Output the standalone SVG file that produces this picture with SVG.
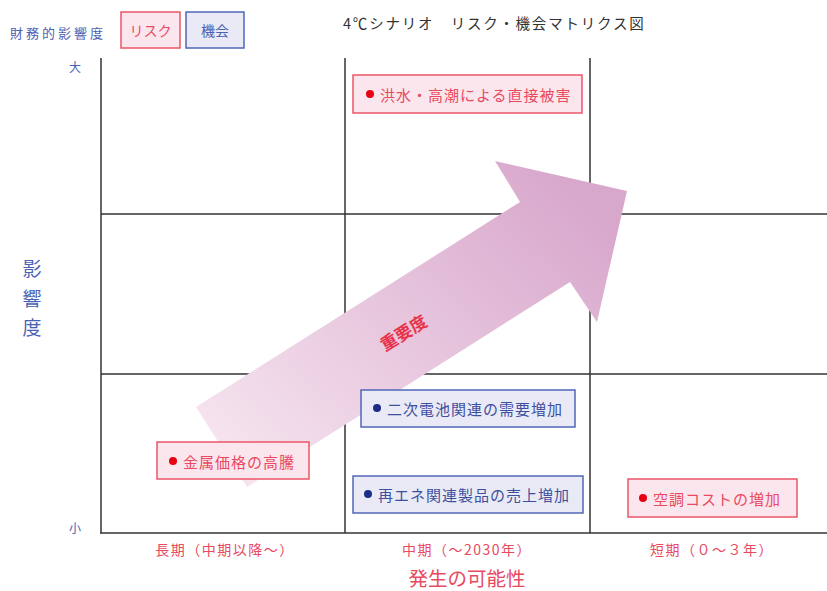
<svg xmlns="http://www.w3.org/2000/svg" width="827" height="591" viewBox="0 0 827 591">
<defs>
<linearGradient id="ag" gradientUnits="userSpaceOnUse" x1="260" y1="480" x2="560" y2="170">
<stop offset="0" stop-color="#f5e3ee"/>
<stop offset="1" stop-color="#d8a7cc"/>
</linearGradient>
</defs>
<style>
text{font-family:"Noto Sans CJK JP","Noto Sans",sans-serif;}
.grid{stroke:#333;stroke-width:1.5;fill:none;}
.rbox{fill:#fce6ee;stroke:#ec5568;stroke-width:1.5;}
.bbox{fill:#e9eaf5;stroke:#5067b8;stroke-width:1.5;}
.rt{fill:#e84a5f;font-size:15px;letter-spacing:1px;}
.bt{fill:#3e4f9e;font-size:15px;letter-spacing:1px;}
.rd{fill:#e60012;}
.bd{fill:#1b2d86;}
.axb{fill:#4a62b4;}
.axr{fill:#e84a5f;}
</style>
<rect width="827" height="591" fill="#fff"/>
<g id="grid">
<line class="grid" x1="101" y1="58" x2="101" y2="533"/>
<line class="grid" x1="345" y1="58" x2="345" y2="533"/>
<line class="grid" x1="590" y1="58" x2="590" y2="533"/>
<line class="grid" x1="101" y1="214" x2="827" y2="214"/>
<line class="grid" x1="101" y1="374" x2="827" y2="374"/>
<line class="grid" x1="100" y1="533" x2="827" y2="533" stroke-width="2.5"/>
</g>
<g id="arrow">
<polygon points="196,407 520,202 495,161 627,191 597,322 570,282 247,487" fill="url(#ag)"/>
<text x="403" y="332" transform="rotate(-32 403 332)" text-anchor="middle" dominant-baseline="central" font-size="17" font-weight="bold" fill="#e8334a">重要度</text>
</g>
<g id="legend">
<text x="10" y="38" class="axb" font-size="13" letter-spacing="3">財務的影響度</text>
<rect class="rbox" x="121" y="12" width="59" height="36"/>
<text x="150.5" y="30" text-anchor="middle" dominant-baseline="central" class="axr" font-size="14">リスク</text>
<rect class="bbox" x="186" y="12" width="58" height="36"/>
<text x="215" y="30" text-anchor="middle" dominant-baseline="central" class="axb" font-size="14">機会</text>
</g>
<g id="title">
<text x="343" y="22" dominant-baseline="central" font-size="14.5" fill="#333" letter-spacing="1.8">4℃シナリオ　リスク・機会マトリクス図</text>
</g>
<g id="y-axis">
<text x="75" y="66" text-anchor="middle" dominant-baseline="central" class="axb" font-size="12">大</text>
<text x="75" y="527" text-anchor="middle" dominant-baseline="central" class="axb" font-size="12">小</text>
<text x="32" y="267" text-anchor="middle" dominant-baseline="central" class="axb" font-size="19">影</text>
<text x="32" y="297" text-anchor="middle" dominant-baseline="central" class="axb" font-size="19">響</text>
<text x="32" y="326" text-anchor="middle" dominant-baseline="central" class="axb" font-size="19">度</text>
</g>
<g id="x-axis">
<text x="225" y="549" text-anchor="middle" dominant-baseline="central" class="axr" font-size="14" letter-spacing="1.5">長期（中期以降〜）</text>
<text x="467" y="549" text-anchor="middle" dominant-baseline="central" class="axr" font-size="14" letter-spacing="1.5">中期（〜2030年）</text>
<text x="712" y="549" text-anchor="middle" dominant-baseline="central" class="axr" font-size="14" letter-spacing="1.5">短期（０〜３年）</text>
<text x="467" y="577" text-anchor="middle" dominant-baseline="central" class="axr" font-size="19.5">発生の可能性</text>
</g>
<g id="node-flood">
<rect class="rbox" x="353" y="75" width="229" height="38"/>
<circle class="rd" cx="370" cy="94" r="4"/>
<text x="380" y="94" dominant-baseline="central" class="rt">洪水・高潮による直接被害</text>
</g>
<g id="node-battery">
<rect class="bbox" x="361" y="390" width="214" height="37"/>
<circle class="bd" cx="377" cy="408" r="4"/>
<text x="387" y="408" dominant-baseline="central" class="bt">二次電池関連の需要増加</text>
</g>
<g id="node-renewable">
<rect class="bbox" x="353" y="476" width="230" height="37"/>
<circle class="bd" cx="368" cy="494" r="4"/>
<text x="378" y="494" dominant-baseline="central" class="bt">再エネ関連製品の売上増加</text>
</g>
<g id="node-metal">
<rect class="rbox" x="157" y="442" width="152" height="37"/>
<circle class="rd" cx="173" cy="461" r="4"/>
<text x="183" y="461" dominant-baseline="central" class="rt">金属価格の高騰</text>
</g>
<g id="node-aircon">
<rect class="rbox" x="628" y="479" width="169" height="38"/>
<circle class="rd" cx="643" cy="498" r="4"/>
<text x="653" y="498" dominant-baseline="central" class="rt">空調コストの増加</text>
</g>
</svg>
